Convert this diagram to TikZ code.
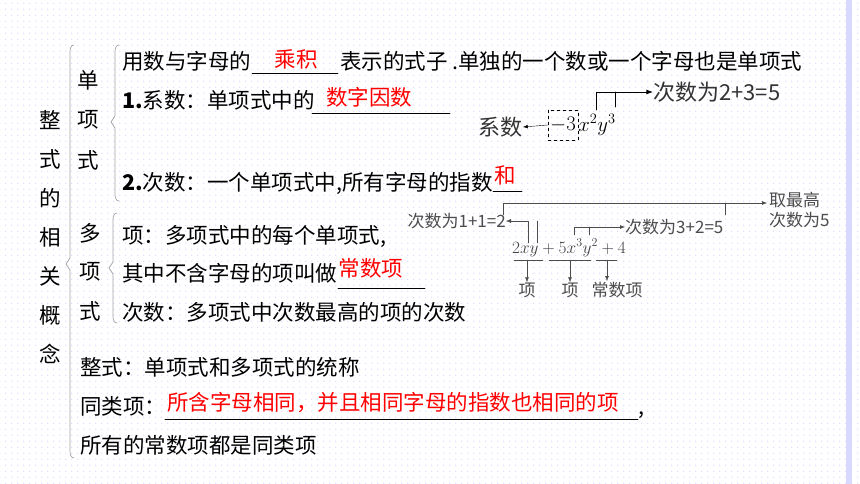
\documentclass[tikz,border=0pt]{standalone}
\usepackage{fontspec}
\setmainfont{Noto Sans CJK SC}
\newfontfamily\mathserif{Liberation Serif}
\usetikzlibrary{arrows.meta,calc,positioning,patterns}

\pgfdeclarepatternformonly{griddots}{\pgfpointorigin}{\pgfpoint{6pt}{6pt}}{\pgfpoint{6pt}{6pt}}{%
  \pgfpathcircle{\pgfpoint{1pt}{1pt}}{0.55pt}\pgfusepath{fill}}

\tikzset{
  txt/.style={anchor=base west, inner sep=0pt, font=\fontsize{21.5}{24}\selectfont},
  ans/.style={anchor=base, inner sep=0pt, text=red, font=\fontsize{21.5}{24}\selectfont},
  vch/.style={inner sep=0pt, font=\fontsize{21.5}{24}\selectfont},
  sm/.style={anchor=base west, inner sep=0pt, text=black!75, font=\mathserif\fontsize{17}{20}\selectfont},
  lab/.style={inner sep=0pt, text=black!70, font=\fontsize{17}{20}\selectfont},
  brace/.style={gray!70, line width=0.7pt},
  blank/.style={line width=0.7pt},
}

\begin{document}
\begin{tikzpicture}[x=1pt, y=-1pt, >=Latex, line cap=round, line join=round]
  \useasboundingbox (0,0) rectangle (860,484);
  \fill[white] (0,0) rectangle (860,484);
  \fill[pattern=griddots, pattern color=blue!35] (0,0) rectangle (860,484);
  \fill[blue!15] (846,0) rectangle (852,484);

  % left column title
  \foreach \ch [count=\i] in {整,式,的,相,关,概,念}
    \node[vch] (t\i) at (50,{81+39*\i}) {\ch};

  % braces
  \draw[brace] (74,45) to[out=180,in=90] (70,52) -- (70,258) -- (66,264) -- (70,270) -- (70,451) to[out=-90,in=180] (74,458);
  \draw[brace] (119,45) to[out=180,in=90] (115,52) -- (115,116) -- (111,122) -- (115,128) -- (115,194) to[out=-90,in=180] (119,201);
  \draw[brace] (117,213) to[out=180,in=90] (113,220) -- (113,262) -- (109,268) -- (113,274) -- (113,316) to[out=-90,in=180] (117,323);

  \foreach \ch [count=\i] in {单,项,式}
    \node[vch] (m\i) at (88,{40+40*\i}) {\ch};
  \foreach \ch [count=\i] in {多,项,式}
    \node[vch] (p\i) at (90,{194+39*\i}) {\ch};

  % monomial
  \node[txt] (l1a) at (122,70) {用数与字母的};
  \draw[blank] (252,73) -- (338,73);
  \node[ans] (a1) at (296,68) {乘积};
  \node[txt] (l1b) at (340,70) {表示的式子 .单独的一个数或一个字母也是单项式};
  \node[txt] (l2) at (122,109) {\textbf{1.}系数：单项式中的};
  \draw[blank] (312,113) -- (450,113);
  \node[ans] (a2) at (369,106) {数字因数};
  \node[txt] (l3) at (122,190) {\textbf{2.}次数：一个单项式中,所有字母的指数};
  \draw[blank] (493,191) -- (522,191);
  \node[ans] (a3) at (505,184) {和};

  % polynomial
  \node[txt] (l4) at (122,243) {项：多项式中的每个单项式,};
  \node[txt] (l5) at (122,281) {其中不含字母的项叫做};
  \draw[blank] (338,288) -- (425,288);
  \node[ans] (a4) at (371,276) {常数项};
  \node[txt] (l6) at (122,320) {次数：多项式中次数最高的项的次数};

  % bottom
  \node[txt] (l7) at (80,375) {整式：单项式和多项式的统称};
  \node[txt] (l8) at (80,414) {同类项：};
  \node[ans] (a5) at (393,410) {所含字母相同，并且相同字母的指数也相同的项};
  \draw[blank] (165,419) -- (638,419);
  \node[txt] (l8c) at (638,414) {,};
  \node[txt] (l9) at (80,453) {所有的常数项都是同类项};

  % monomial example
  \node[draw, dashed, inner sep=1pt, minimum width=30pt, minimum height=30pt, font=\mathserif\fontsize{20}{24}\selectfont] (co) at (563,125) {$-3$};
  \node[anchor=west, inner sep=0pt, font=\mathserif\fontsize{20}{24}\selectfont] (xy) at (co.east) {$x^2y^3$};
  \node[anchor=east, inner sep=0pt, font=\fontsize{22}{24}\selectfont, text=black!80] (cx) at (523,127) {系数};
  \node[anchor=west, inner sep=0pt, font=\fontsize{22}{24}\selectfont, text=black!80] (dg) at (653,92) {次数为2+3=5};
  \draw[->] (co.west) -- (cx.east);
  \draw[line width=0.8pt, ->] (596,110) -- (596,92) -- (dg.west);
  \draw[line width=0.8pt] (615,107) -- (615,92);

  % polynomial example
  \node[sm] (e1) at (512,253) {$2xy+5x^3y^2+4$};
  \node[lab, anchor=east] (d1) at (506,221) {次数为1+1=2};
  \node[lab, anchor=west] (d2) at (625,227) {次数为3+2=5};
  \node[lab, anchor=north west, align=left] (d3) at (769,192) {取最高\\次数为5};
  \coordinate (top) at (503,203);
  \draw[black!70, ->, >={Latex[length=5pt]}] (528,243) -- (528,221) -- (d1.east);
  \draw[black!70] (537,243) -- (537,221);
  \draw[black!70, ->, >={Latex[length=5pt]}] (574,235) -- (574,227) -- (d2.west);
  \draw[black!70] (589,235) -- (589,227);
  \draw[black!70, ->, >={Latex[length=5pt]}] (503,215) -- (top) -- (767,203);
  \draw[black!70] (725,203) -- (725,215);

  \node[lab, anchor=base] (k1) at (527,296) {项};
  \node[lab, anchor=base] (k2) at (570,296) {项};
  \node[lab, anchor=base] (k3) at (617,296) {常数项};
  \draw[black!70] (514,260) -- (543,260) (549,260) -- (591,260) (596,260) -- (617,260);
  \draw[black!70, ->, >={Latex[length=5pt]}] (527,260) -- (k1.north);
  \draw[black!70, ->, >={Latex[length=5pt]}] (570,260) -- (k2.north);
  \draw[black!70, ->, >={Latex[length=5pt]}] (607,260) -- (607,281);
\end{tikzpicture}
\end{document}
